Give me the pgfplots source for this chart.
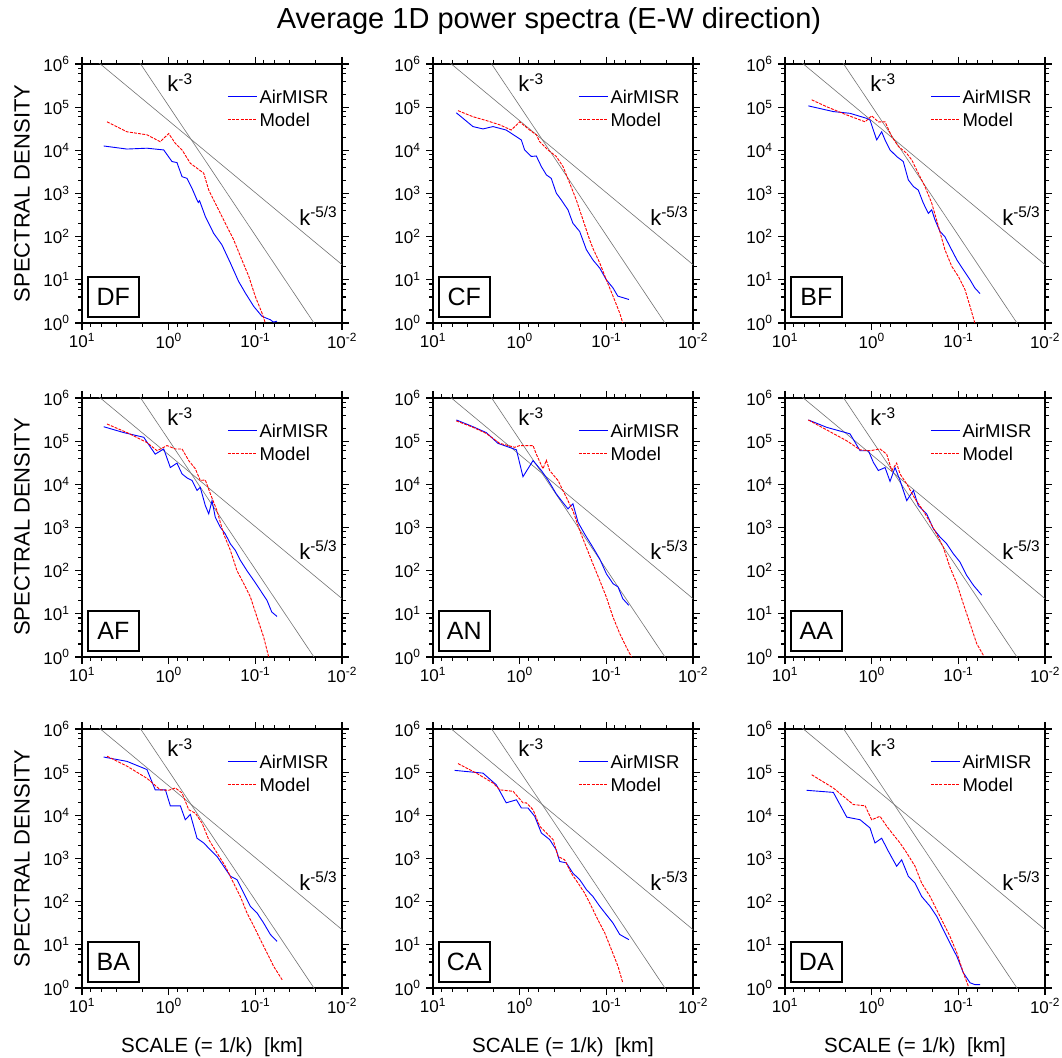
\documentclass[border=0pt]{standalone}
\usepackage{pgfplots}
\pgfplotsset{compat=1.18}
\usepackage{fontspec}
\setmainfont{Liberation Sans}
\pgfplotsset{
 every axis/.append style={
  xmode=log, ymode=log, x dir=reverse,
  xmin=0.01, xmax=10, ymin=1, ymax=1e6,
  scale only axis, width=260pt, height=259pt,
  axis line style={line width=1.6pt},
  xtick={0.01,0.1,1,10},
  xticklabels={10\textsuperscript{-2},10\textsuperscript{-1},10\textsuperscript{0},10\textsuperscript{1}},
  ytick={1,10,100,1000,10000,100000,1000000},
  yticklabels={10\textsuperscript{0},10\textsuperscript{1},10\textsuperscript{2},10\textsuperscript{3},10\textsuperscript{4},10\textsuperscript{5},10\textsuperscript{6}},
  minor xtick={0.02,0.04,0.06,0.08,0.2,0.4,0.6,0.8,2,4,6,8},
  minor ytick={2,4,6,8,20,40,60,80,200,400,600,800,2000,4000,6000,8000,20000,40000,60000,80000,200000,400000,600000,800000},
  tick align=outside, major tick length=7pt, minor tick length=4pt,
  tick style={black, line width=1.1pt},
  tick label style={font=\fontsize{17}{20}\selectfont},
  yticklabel style={xshift=-2pt},
 },
}
% reference slopes k^-5/3 and k^-3
\newcommand{\refnotes}{%
  \addplot[black!55, line width=0.6pt, forget plot] coordinates {(10,2.25e6) (0.01,22.5)};
  \addplot[black!55, line width=0.6pt, forget plot] coordinates {(10,1.07e8) (0.01,0.107)};
}
\newcommand{\panelextras}[1]{%
  \node[anchor=base west, font=\fontsize{22}{26}\selectfont] at (axis description cs:0.315,0.893) {k\textsuperscript{-3}};
  \node[anchor=base west, font=\fontsize{22}{26}\selectfont] at (axis description cs:0.822,0.378) {k\textsuperscript{-5/3}};
  \draw[blue, line width=1.2pt] (axis description cs:0.5615,0.87452) -- (axis description cs:0.673,0.87452);
  \draw[red, line width=1.2pt, dash pattern=on 3pt off 1.2pt] (axis description cs:0.5615,0.78571) -- (axis description cs:0.673,0.78571);
  \node[anchor=west, inner sep=0pt, font=\fontsize{18.5}{22}\selectfont] at (axis description cs:0.682,0.874) {AirMISR};
  \node[anchor=west, inner sep=0pt, font=\fontsize{18.5}{22}\selectfont] at (axis description cs:0.682,0.784) {Model};
  \node[draw, line width=1.8pt, fill=white, minimum width=51pt, minimum height=40pt, inner sep=0pt, anchor=south west, font=\fontsize{25}{30}\selectfont] at (axis description cs:0.019,0.019) {#1};
}
\begin{document}
\begin{tikzpicture}[x=1pt,y=1pt]
\node[anchor=base, font=\fontsize{29}{34}\selectfont] at (549,1028) {Average 1D power spectra (E-W direction)};
\node[rotate=90, font=\fontsize{22}{26}\selectfont] at (22,863.5) {SPECTRAL DENSITY};
\node[rotate=90, font=\fontsize{22}{26}\selectfont] at (22,530) {SPECTRAL DENSITY};
\node[rotate=90, font=\fontsize{22}{26}\selectfont] at (22,198.5) {SPECTRAL DENSITY};
\node[anchor=base, font=\fontsize{20.5}{24}\selectfont] at (212,4.5) {SCALE (= 1/k)\ \ [km]};
\node[anchor=base, font=\fontsize{20.5}{24}\selectfont] at (563,4.5) {SCALE (= 1/k)\ \ [km]};
\node[anchor=base, font=\fontsize{20.5}{24}\selectfont] at (915,4.5) {SCALE (= 1/k)\ \ [km]};
% ---------- Row 1 ----------
\begin{axis}[at={(82pt,734pt)}, anchor=south west]
\refnotes
\addplot[blue, line width=0.9pt, no marks] coordinates {(5.62,1.26e4) (3.03,1.07e4) (1.78,1.12e4) (1.14,1.02e4) (0.916,5.5e3) (0.802,5.2e3) (0.701,2.45e3) (0.614,2.24e3) (0.538,1.32e3) (0.471,708) (0.455,620) (0.44,680) (0.378,295) (0.303,120) (0.243,64.6) (0.194,24.5) (0.156,9.2) (0.13,4.9) (0.104,2.4) (0.0838,1.43) (0.075,1.3) (0.0671,1.19) (0.062,1.05) (0.0562,1.1)};
\addplot[red, line width=0.9pt, dash pattern=on 3pt off 1.2pt, no marks] coordinates {(5.15,4.57e4) (3.03,2.69e4) (1.78,2.29e4) (1.25,1.58e4) (1.0,2.45e4) (0.838,1.45e4) (0.701,1.02e4) (0.562,5.0e3) (0.471,3.85e3) (0.394,2.95e3) (0.345,1.2e3) (0.277,500) (0.222,205) (0.178,85) (0.143,29) (0.119,12) (0.1,4.1) (0.0838,1.7) (0.0767,1.0)};
\panelextras{DF}
\end{axis}
\begin{axis}[at={(433pt,734pt)}, anchor=south west]
\refnotes
\addplot[blue, line width=0.9pt, no marks] coordinates {(5.38,7.4e4) (3.46,3.55e4) (2.65,3.13e4) (2.03,3.55e4) (1.43,2.95e4) (0.957,1.74e4) (0.877,1.02e4) (0.733,7.2e3) (0.643,7.4e3) (0.562,4.2e3) (0.492,2.7e3) (0.432,2.24e3) (0.378,1.02e3) (0.331,708) (0.277,417) (0.243,204) (0.203,132) (0.17,50) (0.143,29) (0.119,18.6) (0.1,10) (0.0838,6.5) (0.0738,4.2) (0.0548,3.5)};
\addplot[red, line width=0.9pt, dash pattern=on 3pt off 1.2pt, no marks] coordinates {(5.15,8.3e4) (3.45,6.0e4) (2.43,4.9e4) (1.70,3.9e4) (1.25,2.95e4) (1.0,4.57e4) (0.767,2.95e4) (0.643,2.29e4) (0.587,1.58e4) (0.471,1.02e4) (0.378,7.2e3) (0.316,4.2e3) (0.265,1.74e3) (0.222,708) (0.186,245) (0.156,85) (0.143,54) (0.119,24.5) (0.1,10) (0.0838,4.2) (0.0701,1.7) (0.0646,1.0)};
\panelextras{CF}
\end{axis}
\begin{axis}[at={(785pt,734pt)}, anchor=south west]
\refnotes
\addplot[blue, line width=0.9pt, no marks] coordinates {(5.38,1.07e5) (2.77,7.9e4) (1.78,7.2e4) (1.14,5.5e4) (1.045,5.0e4) (0.875,1.74e4) (0.767,2.69e4) (0.701,1.74e4) (0.614,1.02e4) (0.515,7.2e3) (0.432,5.5e3) (0.378,2.07e3) (0.33,1.45e3) (0.29,1.2e3) (0.254,603) (0.222,347) (0.203,417) (0.186,245) (0.163,132) (0.143,100) (0.125,59) (0.104,29) (0.0875,17) (0.0733,10) (0.0646,6.5) (0.0562,4.8)};
\addplot[red, line width=0.9pt, dash pattern=on 3pt off 1.2pt, no marks] coordinates {(4.92,1.48e5) (3.30,1.02e5) (1.94,6.6e4) (1.19,4.57e4) (1.0,6.3e4) (0.838,4.57e4) (0.701,4.57e4) (0.587,2.09e4) (0.492,1.23e4) (0.394,8.5e3) (0.345,6.0e3) (0.29,2.95e3) (0.243,1.45e3) (0.203,603) (0.17,174) (0.143,50) (0.119,20.4) (0.1,12) (0.0838,5.9) (0.0733,2.43) (0.0646,1.0)};
\panelextras{BF}
\end{axis}
% ---------- Row 2 ----------
\begin{axis}[at={(82pt,400pt)}, anchor=south west]
\refnotes
\addplot[blue, line width=0.9pt, no marks] coordinates {(5.62,2.16e5) (3.30,1.58e5) (1.94,1.23e5) (1.43,5.0e4) (1.14,6.6e4) (0.957,2.45e4) (0.802,3.1e4) (0.701,1.74e4) (0.614,1.41e4) (0.538,1.23e4) (0.471,7.2e3) (0.432,8.5e3) (0.378,3.24e3) (0.345,2.07e3) (0.316,4.2e3) (0.29,1.74e3) (0.254,1.02e3) (0.222,708) (0.194,417) (0.17,295) (0.149,174) (0.125,100) (0.104,59) (0.0875,35) (0.0733,20.4) (0.0646,11) (0.0562,8.7)};
\addplot[red, line width=0.9pt, dash pattern=on 3pt off 1.2pt, no marks] coordinates {(5.15,2.5e5) (3.03,1.58e5) (1.78,9.3e4) (1.36,6.0e4) (1.045,7.9e4) (0.838,6.6e4) (0.701,6.6e4) (0.587,3.55e4) (0.492,2.29e4) (0.432,1.23e4) (0.378,1.26e4) (0.33,6.0e3) (0.277,2.45e3) (0.232,708) (0.194,295) (0.163,100) (0.136,50) (0.114,24.5) (0.0957,8.4) (0.0802,2.9) (0.0701,1.0)};
\panelextras{AF}
\end{axis}
\begin{axis}[at={(433pt,400pt)}, anchor=south west]
\refnotes
\addplot[blue, line width=0.9pt, no marks] coordinates {(5.38,3.1e5) (3.45,2.16e5) (2.43,1.58e5) (1.78,8.9e4) (1.09,6.3e4) (0.916,1.5e4) (0.701,3.55e4) (0.562,2.09e4) (0.471,1.26e4) (0.378,6.0e3) (0.33,4.2e3) (0.277,2.7e3) (0.243,3.55e3) (0.212,1.32e3) (0.178,708) (0.143,347) (0.119,186) (0.1,85) (0.0838,50) (0.0733,42) (0.0646,22.4) (0.055,15.7)};
\addplot[red, line width=0.9pt, dash pattern=on 3pt off 1.2pt, no marks] coordinates {(5.38,2.95e5) (3.45,2.09e5) (2.43,1.51e5) (1.70,8.9e4) (1.14,7.2e4) (1.0,7.9e4) (0.701,7.9e4) (0.643,5.0e4) (0.538,2.29e4) (0.492,3.6e4) (0.451,2.09e4) (0.361,1.23e4) (0.303,6.0e3) (0.243,2.45e3) (0.203,851) (0.17,347) (0.143,145) (0.119,59) (0.1,24.5) (0.0838,8.4) (0.0701,3.5) (0.0589,1.7) (0.0513,1.0)};
\panelextras{AN}
\end{axis}
\begin{axis}[at={(785pt,400pt)}, anchor=south west]
\refnotes
\addplot[blue, line width=0.9pt, no marks] coordinates {(5.38,3.1e5) (3.30,2.09e5) (1.78,1.48e5) (1.36,6.0e4) (1.09,6.0e4) (0.957,3.24e4) (0.838,2.09e4) (0.701,2.45e4) (0.614,1.17e4) (0.538,2.45e4) (0.471,1.23e4) (0.394,4.2e3) (0.33,7.2e3) (0.29,3.24e3) (0.232,2.07e3) (0.194,933) (0.163,603) (0.136,417) (0.114,245) (0.0957,158) (0.0802,78) (0.0671,46) (0.0537,27)};
\addplot[red, line width=0.9pt, dash pattern=on 3pt off 1.2pt, no marks] coordinates {(5.38,3.1e5) (3.30,1.82e5) (1.94,1.02e5) (1.36,6.3e4) (1.045,6.0e4) (0.802,6.6e4) (0.671,5.0e4) (0.587,2.09e4) (0.515,3.1e4) (0.471,1.74e4) (0.394,1.02e4) (0.316,4.6e3) (0.254,2.45e3) (0.212,1.32e3) (0.178,708) (0.149,347) (0.125,120) (0.104,50) (0.0875,17) (0.0733,5.9) (0.0614,2.04) (0.0515,1.1)};
\panelextras{AA}
\end{axis}
% ---------- Row 3 ----------
\begin{axis}[at={(82pt,69pt)}, anchor=south west]
\refnotes
\addplot[blue, line width=0.9pt, no marks] coordinates {(5.62,2.24e5) (3.03,1.78e5) (1.78,1.15e5) (1.43,3.9e4) (1.09,3.9e4) (0.957,1.66e4) (0.733,1.66e4) (0.643,7.9e3) (0.562,1.05e4) (0.471,2.95e3) (0.394,2.29e3) (0.33,1.58e3) (0.277,1.12e3) (0.232,661) (0.194,389) (0.163,324) (0.136,158) (0.114,78) (0.0957,55) (0.0802,32) (0.0671,17.4) (0.0562,12)};
\addplot[red, line width=0.9pt, dash pattern=on 3pt off 1.2pt, no marks] coordinates {(5.15,2.34e5) (3.03,1.38e5) (1.78,7.2e4) (1.25,3.9e4) (1.0,3.8e4) (0.838,4.3e4) (0.701,3.3e4) (0.587,1.35e4) (0.492,1.12e4) (0.412,6.6e3) (0.345,2.75e3) (0.277,1.35e3) (0.222,661) (0.178,269) (0.149,132) (0.125,55) (0.104,27) (0.0875,13.2) (0.0733,6.5) (0.0614,3.16) (0.049,1.55)};
\panelextras{BA}
\end{axis}
\begin{axis}[at={(433pt,69pt)}, anchor=south west]
\refnotes
\addplot[blue, line width=0.9pt, no marks] coordinates {(5.62,1.1e5) (2.65,9.5e4) (1.86,5.1e4) (1.43,1.95e4) (1.09,2.29e4) (0.957,1.48e4) (0.802,1.48e4) (0.671,9.5e3) (0.562,3.9e3) (0.451,2.75e3) (0.378,1.58e3) (0.345,851) (0.29,794) (0.243,457) (0.203,324) (0.17,191) (0.143,132) (0.119,78) (0.1,50) (0.0838,32) (0.0701,17.4) (0.055,13.2)};
\addplot[red, line width=0.9pt, dash pattern=on 3pt off 1.2pt, no marks] coordinates {(5.15,1.58e5) (3.16,9.5e4) (2.03,5.6e4) (1.70,3.9e4) (1.19,3.6e4) (0.916,1.95e4) (0.838,1.95e4) (0.701,1.35e4) (0.587,5.6e3) (0.492,3.9e3) (0.412,2.75e3) (0.361,1.12e3) (0.303,933) (0.254,457) (0.212,269) (0.178,158) (0.149,78) (0.125,38) (0.104,18.6) (0.0875,7.8) (0.0733,3.16) (0.0646,1.32)};
\panelextras{CA}
\end{axis}
\begin{axis}[at={(785pt,69pt)}, anchor=south west]
\refnotes
\addplot[blue, line width=0.9pt, no marks] coordinates {(5.62,3.8e4) (2.77,3.4e4) (1.94,9.1e3) (1.36,7.9e3) (1.045,5.1e3) (0.916,2.29e3) (0.767,2.95e3) (0.643,1.48e3) (0.515,661) (0.451,933) (0.378,389) (0.316,269) (0.265,132) (0.212,78) (0.178,46) (0.149,22.4) (0.125,11) (0.104,5.4) (0.0875,2.24) (0.0733,1.32) (0.0646,1.2) (0.0562,1.2)};
\addplot[red, line width=0.9pt, dash pattern=on 3pt off 1.2pt, no marks] coordinates {(4.92,8.7e4) (2.77,4.3e4) (1.63,1.78e4) (1.19,1.66e4) (1.0,7.9e3) (0.802,9.5e3) (0.671,5.6e3) (0.562,3.55e3) (0.471,2.29e3) (0.394,1.35e3) (0.316,661) (0.265,269) (0.212,132) (0.178,65) (0.149,32) (0.125,15.8) (0.104,6.5) (0.0875,2.24) (0.0767,1.1)};
\panelextras{DA}
\end{axis}
\pgfresetboundingbox
\path[use as bounding box] (0pt,0pt) rectangle (1062pt,1057pt);
\end{tikzpicture}
\end{document}
